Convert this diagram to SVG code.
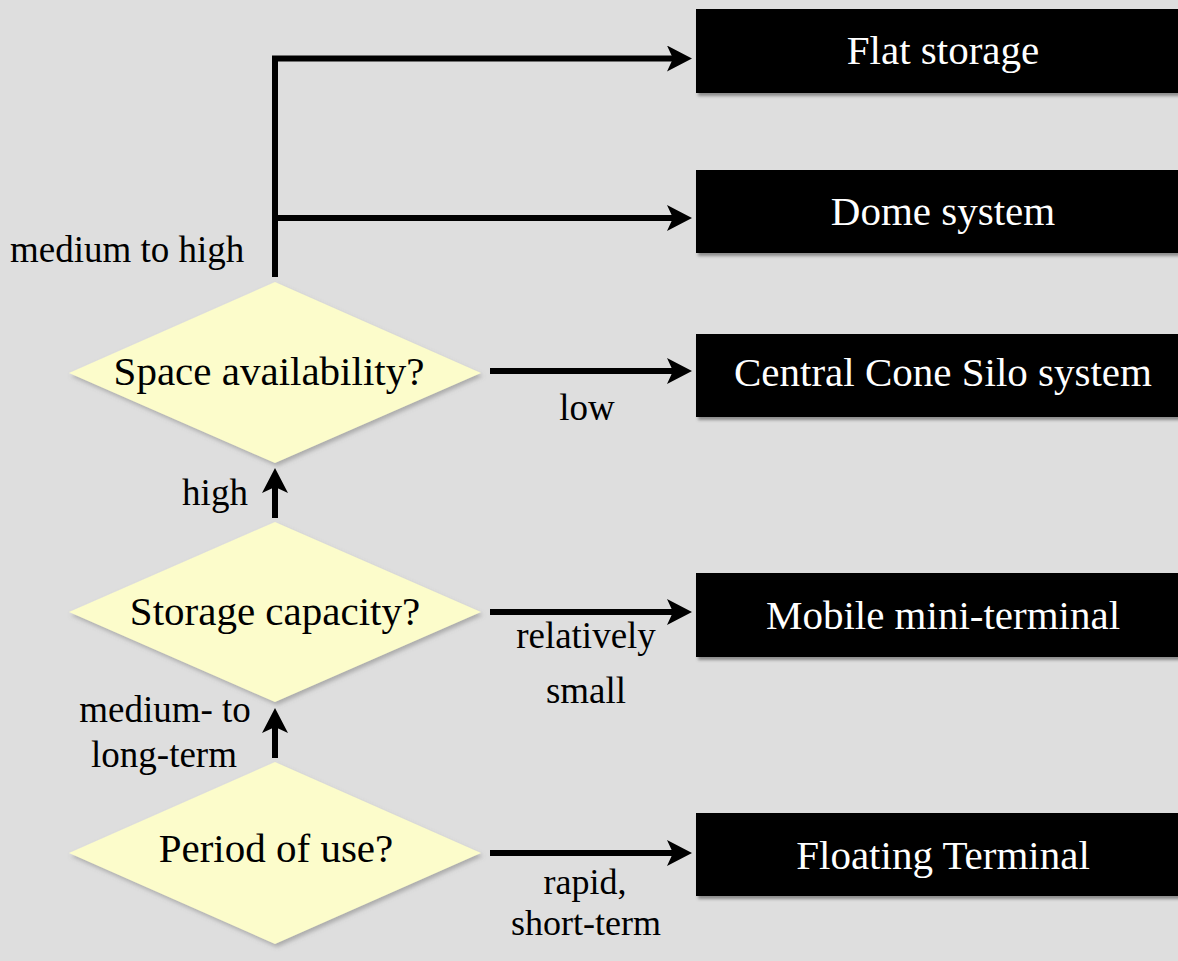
<svg xmlns="http://www.w3.org/2000/svg" width="1178" height="961" viewBox="0 0 1178 961">
<defs>
<style>
.box{fill:#000000;filter:url(#sh);}
.dia{fill:#FCFCCB;filter:url(#sh2);}
.bt{font-family:"Liberation Serif","Times New Roman",serif;font-size:41px;fill:#ffffff;text-anchor:middle;}
.dt{font-family:"Liberation Serif","Times New Roman",serif;font-size:41px;fill:#000000;text-anchor:middle;}
.lb{font-family:"Liberation Serif","Times New Roman",serif;font-size:37px;fill:#000000;text-anchor:middle;}
.ln{fill:none;stroke:#000000;stroke-width:6;stroke-linejoin:miter;marker-end:url(#ah);}
</style>
<filter id="sh" x="-5%" y="-20%" width="110%" height="150%">
<feDropShadow dx="2" dy="3" stdDeviation="1.5" flood-color="#555555" flood-opacity="0.6"/>
</filter>
<filter id="sh2" x="-5%" y="-10%" width="115%" height="125%">
<feDropShadow dx="2" dy="3" stdDeviation="2" flood-color="#777777" flood-opacity="0.5"/>
</filter>
<marker id="ah" markerUnits="userSpaceOnUse" markerWidth="30" markerHeight="30" refX="6" refY="13" orient="auto">
<path d="M0,0 L25,13 L0,26 L6,13 Z" fill="#000000"/>
</marker>
</defs>
<rect x="0" y="0" width="1178" height="961" fill="#DEDEDE"/>

<g id="connectors">
<path class="ln" d="M275,277 L275,58.5 L673,58.5"/>
<path class="ln" d="M275,218 L673,218"/>
<path class="ln" d="M490,371 L673,371"/>
<path class="ln" d="M490,612 L673,612"/>
<path class="ln" d="M490,853 L673,853"/>
<path class="ln" d="M275,518 L275,487"/>
<path class="ln" d="M275,758 L275,727"/>
<text class="lb" x="10" y="262" style="text-anchor:start">medium to high</text>
<text class="lb" x="587" y="420">low</text>
<text class="lb" x="215" y="505">high</text>
<text class="lb" x="586" y="648">relatively</text>
<text class="lb" x="586" y="703">small</text>
<text class="lb" x="165" y="722">medium- to</text>
<text class="lb" x="164" y="767">long-term</text>
<text class="lb" x="585" y="894" style="font-size:36px">rapid,</text>
<text class="lb" x="586" y="935" style="font-size:36px">short-term</text>
</g>

<g id="space">
<polygon class="dia" points="275,282 481,373 275,463 69,373"/>
<text class="dt" x="269" y="385">Space availability?</text>
</g>
<g id="capacity">
<polygon class="dia" points="275,522 481,612 275,702 69,612"/>
<text class="dt" x="275" y="625">Storage capacity?</text>
</g>
<g id="period">
<polygon class="dia" points="275,762 481,853 275,944 69,853"/>
<text class="dt" x="276" y="862">Period of use?</text>
</g>

<g id="flat">
<rect class="box" x="696" y="9" width="500" height="84"/>
<text class="bt" x="943" y="64">Flat storage</text>
</g>
<g id="dome">
<rect class="box" x="696" y="170" width="500" height="83"/>
<text class="bt" x="943" y="225">Dome system</text>
</g>
<g id="cone">
<rect class="box" x="696" y="334" width="500" height="83"/>
<text class="bt" x="943" y="386">Central Cone Silo system</text>
</g>
<g id="mobile">
<rect class="box" x="696" y="573" width="500" height="84"/>
<text class="bt" x="943" y="629">Mobile mini-terminal</text>
</g>
<g id="floating">
<rect class="box" x="696" y="813" width="500" height="83"/>
<text class="bt" x="943" y="869">Floating Terminal</text>
</g>
</svg>
